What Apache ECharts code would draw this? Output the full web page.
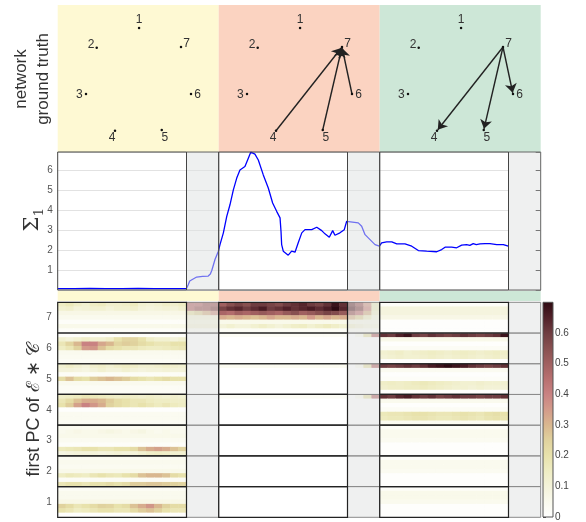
<!DOCTYPE html>
<html><head><meta charset="utf-8">
<script src="https://cdn.jsdelivr.net/npm/echarts@6/dist/echarts.min.js"></script>
<style>html,body{margin:0;padding:0;background:#fff}#c{width:586px;height:522px}</style>
</head><body><div id="c"></div>
<script>
// ================= DATA =================
// network (ground truth) per phase
const nodeNames = ['1','2','3','4','5','6','7'];
const nodeX = [0.01,-0.774,-0.972,-0.435,0.43,0.972,0.787];
const nodeY = [1.0,0.635,-0.222,-0.902,-0.889,-0.222,0.648];
const edgesPhase1 = [];
const edgesPhase2 = [['4','7'],['5','7'],['6','7']];
const edgesPhase3 = [['7','4'],['7','5'],['7','6']];

// time layout of the three phases (white part then grey transition)
const phaseStart = [0,100,200];
const phaseWhiteEnd = [80,180,280];
const phaseEnd = [100,200,300];

// Sigma_1 trace
const sigmaPhase1 = [[0,0.07],[10,0.07],[20,0.075],[30,0.07],[40,0.07],[50,0.075],[60,0.07],[70,0.07],[80,0.07]];
const sigmaTrans1 = [[81,0.25],[82,0.45],[83.2,0.53],[86.3,0.65],[90,0.68],[93.5,0.7],[94.8,0.8],[95.7,0.98],[97.7,1.53],[99.8,1.95]];
const sigmaPhase2 = [[100.8,2.28],[102.9,2.87],[105,3.7],[107,4.28],[109.1,5.03],[111.2,5.62],[113.2,6.03],[116.3,6.2],[118.4,6.62],[119.9,6.92],[122.5,6.82],[124.6,6.53],[127.7,5.78],[130.8,5.12],[133.5,4.37],[136,3.95],[138.1,3.62],[138.7,2.95],[139.1,2.28],[140.1,1.95],[143.2,1.75],[145.3,1.95],[147.4,1.9],[149.4,2.37],[151.6,2.87],[153.6,3.03],[157.8,3.03],[160.9,3.15],[164,2.98],[166,2.82],[168.7,2.65],[170.8,2.98],[172.2,2.75],[175.3,2.87],[178,3.03],[179.5,3.45]];
const sigmaTrans2 = [[180,3.48],[186.7,3.37],[188.8,3.2],[190.9,2.78],[194,2.53],[197.1,2.28],[199.8,2.2]];
const sigmaPhase3 = [[201.2,2.37],[204.3,2.42],[207.5,2.42],[210.6,2.32],[215.7,2.32],[219.9,2.2],[224,1.98],[229.2,1.95],[235.4,1.92],[238.5,2.03],[240.6,2.15],[244.7,2.15],[247.8,2.12],[250.9,2.25],[254,2.28],[256,2.24],[258.1,2.33],[260,2.28],[262.3,2.32],[265.4,2.33],[268.5,2.33],[272.7,2.28],[276.8,2.28],[279.9,2.2]];

// heat map: per node, per phase, 7 sub-rows (top to bottom); 16 columns in white part, 4 in grey part
// (a single number = same value over the whole phase)
const node1White = [
 [0.03,0.05,0.05,0.07,
  [0.25,0.22,0.18,0.2,0.22,0.25,0.24,0.2,0.22,0.28,0.32,0.36,0.3,0.25,0.22,0.22],
  [0.2,0.18,0.15,0.16,0.18,0.2,0.2,0.18,0.18,0.22,0.26,0.28,0.25,0.2,0.18,0.18],
  0.01],
 [0,0,0,0,0,0,0],
 [0.02,0.06,0.06,0.05,0.01,0.01,0.01]];
const node2White = [
 [0.04,0.05,0.04,0.06,
  [0.15,0.17,0.16,0.15,0.18,0.2,0.18,0.17,0.2,0.22,0.28,0.3,0.3,0.28,0.22,0.2],
  0.03,
  [0.18,0.2,0.2,0.18,0.2,0.2,0.22,0.2,0.22,0.26,0.26,0.27,0.27,0.26,0.25,0.24]],
 [0,0,0,0,0,0,0],
 [0.02,0.05,0.05,0.04,0.01,0.01,0.01]];
const node3White = [
 [0.04,
  [0.05,0.06,0.07,0.06,0.06,0.07,0.08,0.07,0.06,0.07,0.08,0.06,0.05,0.06,0.05,0.05],
  0.06,0.04,0.02,
  [0.16,0.17,0.18,0.2,0.2,0.18,0.18,0.2,0.2,0.22,0.28,0.32,0.34,0.32,0.28,0.25],
  [0.08,0.09,0.1,0.1,0.1,0.09,0.1,0.11,0.1,0.1,0.12,0.14,0.15,0.14,0.12,0.12]],
 [0,0,0,0,0,0,0],
 [0.02,0.05,0.05,0.04,0.01,0.01,0.01]];
const node4White = [
 [[0.14,0.15,0.16,0.18,0.17,0.16,0.15,0.14,0.15,0.14,0.13,0.14,0.13,0.12,0.13,0.12],
  [0.18,0.22,0.28,0.32,0.32,0.3,0.26,0.22,0.2,0.18,0.18,0.16,0.15,0.15,0.14,0.14],
  [0.2,0.26,0.34,0.4,0.36,0.32,0.25,0.22,0.2,0.18,0.2,0.18,0.16,0.18,0.16,0.15],
  0.01,0.04,0.04,0.03],
 [0.03,0,0,0,0,0,0],
 [[0.62,0.6,0.64,0.66,0.62,0.6,0.62,0.58,0.6,0.62,0.6,0.6,0.58,0.6,0.6,0.62],
  0.05,0.01,0.03,
  [0.17,0.18,0.18,0.19,0.2,0.2,0.19,0.18,0.18,0.19,0.2,0.19,0.18,0.2,0.21,0.2],
  [0.16,0.17,0.17,0.18,0.19,0.19,0.18,0.17,0.17,0.18,0.19,0.18,0.17,0.19,0.2,0.19],
  0.04]];
const node5White = [
 [[0.12,0.14,0.12,0.1,0.13,0.14,0.12,0.14,0.15,0.14,0.12,0.12,0.13,0.14,0.13,0.12],
  [0.1,0.1,0.09,0.08,0.1,0.12,0.1,0.1,0.12,0.1,0.09,0.1,0.1,0.11,0.1,0.1],
  0.03,
  [0.22,0.28,0.22,0.2,0.26,0.28,0.3,0.28,0.26,0.22,0.2,0.18,0.2,0.22,0.2,0.2],
  0.05,0.03,0.03],
 [0.04,0,0,0,0,0,0],
 [[0.6,0.58,0.6,0.62,0.6,0.62,0.66,0.68,0.7,0.68,0.66,0.62,0.6,0.58,0.6,0.62],
  0.04,0.01,0.02,
  [0.14,0.15,0.14,0.15,0.16,0.17,0.16,0.15,0.14,0.13,0.12,0.12,0.13,0.12,0.12,0.12],
  [0.13,0.14,0.14,0.15,0.15,0.16,0.15,0.14,0.13,0.12,0.12,0.11,0.12,0.11,0.11,0.11],
  0.01]];
const node6White = [
 [0.02,
  [0.12,0.1,0.12,0.14,0.12,0.12,0.14,0.2,0.24,0.24,0.2,0.14,0.12,0.12,0.1,0.12],
  [0.18,0.24,0.3,0.4,0.4,0.33,0.3,0.24,0.26,0.25,0.22,0.2,0.18,0.18,0.2,0.2],
  [0.15,0.18,0.25,0.35,0.36,0.28,0.22,0.2,0.18,0.18,0.16,0.15,0.15,0.16,0.17,0.18],
  0.05,0.04,0.03],
 [0.03,0,0,0,0,0,0],
 [[0.62,0.6,0.65,0.68,0.6,0.58,0.62,0.6,0.58,0.6,0.62,0.6,0.58,0.6,0.62,0.68],
  0.06,0.01,0.03,
  [0.12,0.13,0.14,0.12,0.13,0.14,0.15,0.14,0.13,0.14,0.15,0.14,0.13,0.14,0.15,0.14],
  [0.11,0.12,0.13,0.12,0.12,0.13,0.14,0.13,0.12,0.13,0.14,0.13,0.12,0.13,0.14,0.13],
  0.01]];
const node7White = [
 [[0.15,0.17,0.14,0.12,0.15,0.16,0.13,0.13,0.14,0.16,0.12,0.11,0.12,0.14,0.13,0.15],
  [0.12,0.13,0.1,0.11,0.12,0.12,0.1,0.12,0.12,0.13,0.1,0.09,0.1,0.11,0.1,0.12],
  0.07,0.05,0.02,0.06,0.02],
 [[0.5,0.55,0.58,0.55,0.6,0.6,0.58,0.56,0.6,0.62,0.64,0.6,0.58,0.62,0.68,0.62],
  [0.58,0.62,0.64,0.6,0.63,0.66,0.6,0.62,0.65,0.62,0.64,0.66,0.63,0.66,0.7,0.64],
  [0.48,0.46,0.5,0.48,0.5,0.52,0.5,0.48,0.52,0.55,0.5,0.52,0.55,0.58,0.56,0.52],
  [0.32,0.3,0.32,0.3,0.28,0.3,0.33,0.3,0.3,0.32,0.3,0.35,0.3,0.33,0.3,0.32],
  0.06,
  [0.1,0.12,0.1,0.1,0.12,0.14,0.12,0.1,0.12,0.14,0.15,0.12,0.14,0.16,0.14,0.12],
  0.03],
 [0.02,0.09,0.09,0.07,0.01,0.01,0.01]];
const node4Gray = [null, [[0,0.05,0.2,0.45],0,0,0,0,0,0], null];
const node5Gray = [null, [[0,0.05,0.2,0.45],0,0,0,0,0,0], null];
const node6Gray = [null, [[0,0.05,0.2,0.45],0,0,0,0,0,0], null];
const node7Gray = [
 [[0.45,0.45,0.5,0.5],[0.45,0.5,0.5,0.55],[0.2,0.25,0.3,0.35],0.1,0.08,0.1,0.03],
 [[0.58,0.5,0.35,0.15],[0.62,0.55,0.38,0.15],[0.5,0.42,0.3,0.12],[0.3,0.25,0.15,0.08],0.06,[0.12,0.1,0.08,0.08],0.03],
 null];

const heatRowLabels = ['1','2','3','4','5','6','7'];
const colorbarMax = 0.7;
const sigmaMax = 6.93;

// ================= BUILD =================
const FONT = '"Liberation Sans", Arial, sans-serif';
const cmap = ['#ffffff','#fafaee','#f4f3da','#efedc4','#e8e2ac','#e0d29e','#d9b78f','#d39b8a',
              '#c98282','#b87070','#a06060','#885050','#6e3c40','#502028','#2e0a12'];
const panelColors = ['#fef9d3','#fbd3c1','#cde7d7'];

const whiteByNode = [node1White,node2White,node3White,node4White,node5White,node6White,node7White];
const grayByNode = [null,null,null,node4Gray,node5Gray,node6Gray,node7Gray];
const heatData = [];
for (let n = 0; n < 7; n++) {
  for (let p = 0; p < 3; p++) {
    for (let s = 0; s < 7; s++) {
      const row = n * 7 + (6 - s);
      const w = whiteByNode[n][p][s];
      for (let c = 0; c < 16; c++) heatData.push([p * 20 + c, row, Array.isArray(w) ? w[c] : w]);
      const gp = grayByNode[n] && grayByNode[n][p];
      const g = gp ? gp[s] : 0;
      for (let c = 0; c < 4; c++) heatData.push([p * 20 + 16 + c, row, Array.isArray(g) ? g[c] : g]);
    }
  }
}
const heatCols = Array.from({length: 60}, (_, i) => String(i));
const heatRows = Array.from({length: 49}, (_, i) => String(i));

const phaseBoxes = phaseStart.map((s, i) => [s, phaseWhiteEnd[i], phaseEnd[i]]);
const bandBoxes = [];
for (let b = 0; b < 7; b++) for (let p = 0; p < 3; p++) bandBoxes.push([phaseStart[p], phaseWhiteEnd[p], phaseEnd[p], b]);

const labelPos = [
  {position:'top', distance:1, offset:[0,0]},
  {position:'left', distance:1, offset:[0,-3]},
  {position:'left', distance:2, offset:[0,1]},
  {position:'bottom', distance:1, offset:[-3,-1]},
  {position:'bottom', distance:1, offset:[3,-1]},
  {position:'right', distance:2, offset:[0,1]},
  {position:'right', distance:1, offset:[0,-3]}
];
const nodes = nodeNames.map((nm, i) => ({name: nm, value: [nodeX[i], nodeY[i]], label: labelPos[i]}));
const edgeSets = [edgesPhase1, edgesPhase2, edgesPhase3];

const L = 57.7, W = 483;
const grids = [
  {left: L, top: 5, width: W, height: 296},
  {left: 84.5, top: 28, width: 108, height: 108},
  {left: 245.5, top: 28, width: 108, height: 108},
  {left: 406.5, top: 28, width: 108, height: 108},
  {left: L, top: 152, width: W, height: 138, show: true, backgroundColor: '#fff', borderWidth: 0},
  {left: L, top: 302.3, width: W, height: 215},
  {left: L, top: 302.3, width: W, height: 215},
  {left: 543, top: 302.3, width: 10, height: 215}
];
const hid = (gi, min, max) => ({gridIndex: gi, type: 'value', min, max, show: false});

const option = {
  animation: false,
  textStyle: {fontFamily: FONT},
  grid: grids,
  xAxis: [
    hid(0, 0, 300), hid(1, -1, 1), hid(2, -1, 1), hid(3, -1, 1), hid(4, 0, 300),
    {gridIndex: 5, type: 'category', data: heatCols, show: false},
    hid(6, 0, 300), hid(7, 0, 1)
  ],
  yAxis: [
    hid(0, 0, 1), hid(1, -1, 1), hid(2, -1, 1), hid(3, -1, 1),
    {gridIndex: 4, type: 'value', min: 0, max: sigmaMax, interval: 1,
     axisLine: {show: false}, axisTick: {show: false},
     axisLabel: {fontSize: 10, color: '#555', margin: 5, showMinLabel: false, showMaxLabel: false},
     splitLine: {lineStyle: {color: '#e2e2e2', width: 1}}},
    {gridIndex: 4, type: 'value', position: 'right', min: 0, max: sigmaMax, interval: 1, z: 20,
     axisLine: {show: false}, axisLabel: {show: false}, splitLine: {show: false},
     axisTick: {show: true, inside: true, length: 5, lineStyle: {color: '#777'}}},
    {gridIndex: 5, type: 'category', data: heatRows, show: false},
    {gridIndex: 6, type: 'category', data: heatRowLabels,
     axisLine: {show: false}, axisTick: {show: false}, splitLine: {show: false},
     axisLabel: {fontSize: 10, color: '#555', margin: 6}},
    {gridIndex: 7, type: 'value', position: 'right', min: 0, max: colorbarMax, interval: 0.1,
     axisLine: {show: false}, splitLine: {show: false},
     axisTick: {show: true, length: 3, lineStyle: {color: '#444'}},
     axisLabel: {fontSize: 10, color: '#444', margin: 2, showMaxLabel: false}}
  ],
  visualMap: {show: false, type: 'continuous', min: 0, max: colorbarMax, seriesIndex: 6, inRange: {color: cmap}},
  series: [
    {type: 'custom', xAxisIndex: 0, yAxisIndex: 0, z: -1, silent: true, clip: false,
     data: phaseBoxes,
     renderItem: (params, api) => {
       const a = api.coord([api.value(0), 1]), b = api.coord([api.value(2), 0]);
       return {type: 'rect', shape: {x: a[0], y: a[1], width: b[0] - a[0], height: b[1] - a[1]},
               style: {fill: panelColors[params.dataIndex]}};
     }},
    ...[0, 1, 2].map(k => ({
      type: 'graph', coordinateSystem: 'cartesian2d', xAxisIndex: k + 1, yAxisIndex: k + 1,
      data: nodes, links: edgeSets[k].map(e => ({source: e[0], target: e[1]})),
      symbol: 'circle', symbolSize: 2.5, itemStyle: {color: '#111'},
      edgeSymbol: ['none', 'arrow'], edgeSymbolSize: 9,
      lineStyle: {color: '#222', width: 1.4, opacity: 1, curveness: 0},
      label: {show: true, fontSize: 12, color: '#333', fontFamily: FONT},
      emphasis: {disabled: true}, silent: true
    })),
    {type: 'line', xAxisIndex: 4, yAxisIndex: 4, symbol: 'none', z: 3,
     data: [].concat(sigmaPhase1, sigmaTrans1, sigmaPhase2, sigmaTrans2, sigmaPhase3),
     lineStyle: {color: '#0000ff', width: 1.3}},
    {type: 'custom', xAxisIndex: 4, yAxisIndex: 4, z: 10, silent: true, clip: false,
     data: phaseBoxes,
     renderItem: (params, api) => {
       const t = api.coord([api.value(0), sigmaMax]), w = api.coord([api.value(1), 0]), e = api.coord([api.value(2), 0]);
       const last = params.dataIndex === 2;
       return {type: 'group', children: [
         {type: 'rect', shape: {x: w[0], y: t[1], width: e[0] - w[0], height: w[1] - t[1]},
          style: {fill: last ? '#eff0f0' : 'rgba(222,225,225,0.5)', stroke: '#666', lineWidth: 1}},
         {type: 'rect', shape: {x: t[0], y: t[1], width: w[0] - t[0], height: w[1] - t[1]},
          style: {fill: 'none', stroke: '#444', lineWidth: 1}}
       ]};
     }},
    {type: 'heatmap', xAxisIndex: 5, yAxisIndex: 6, data: heatData, silent: true,
     itemStyle: {borderWidth: 0}, emphasis: {disabled: true}},
    {type: 'custom', xAxisIndex: 6, yAxisIndex: 7, z: 10, silent: true, clip: false,
     data: bandBoxes,
     renderItem: (params, api) => {
       const c = api.coord([api.value(0), api.value(3)]);
       const h = api.size([0, 1])[1];
       const top = c[1] - h / 2;
       const wx = api.coord([api.value(1), api.value(3)])[0];
       const ex = api.coord([api.value(2), api.value(3)])[0];
       return {type: 'group', children: [
         {type: 'rect', shape: {x: wx, y: top, width: ex - wx, height: h},
          style: {fill: 'rgba(223,225,225,0.5)', stroke: '#8a8a8a', lineWidth: 1}},
         {type: 'rect', shape: {x: c[0], y: top, width: wx - c[0], height: h},
          style: {fill: 'none', stroke: '#222', lineWidth: 1.2}}
       ]};
     }},
    {type: 'custom', xAxisIndex: 7, yAxisIndex: 8, silent: true, clip: false,
     data: [[0, colorbarMax]],
     renderItem: (params, api) => {
       const a = api.coord([0, 0]), b = api.coord([1, api.value(1)]);
       return {type: 'rect', shape: {x: a[0], y: b[1], width: b[0] - a[0], height: a[1] - b[1]},
               style: {fill: {type: 'linear', x: 0, y: 1, x2: 0, y2: 0,
                              colorStops: cmap.map((col, i) => ({offset: i / (cmap.length - 1), color: col}))},
                       stroke: '#555', lineWidth: 1}};
     }}
  ],
  graphic: [
    {type: 'text', x: 32, y: 79, rotation: Math.PI / 2,
     style: {text: 'network\nground truth', font: '17px ' + FONT, fill: '#333', align: 'center', verticalAlign: 'middle', lineHeight: 22}},
    {type: 'text', x: 32.5, y: 224, rotation: Math.PI / 2,
     style: {text: 'Σ', font: '21px "DejaVu Serif", serif', fill: '#333', align: 'center', verticalAlign: 'middle'}},
    {type: 'text', x: 40, y: 212, rotation: Math.PI / 2,
     style: {text: '1', font: '13px "DejaVu Serif", serif', fill: '#333', align: 'center', verticalAlign: 'middle'}},
    {type: 'text', x: 34, y: 410, rotation: Math.PI / 2,
     style: {text: 'first PC of ℰ ∗ 𝒞', font: '18px ' + FONT, fill: '#333', align: 'center', verticalAlign: 'middle'}}
  ]
};
echarts.init(document.getElementById('c'), null, {renderer: 'canvas'}).setOption(option);
</script></body></html>
